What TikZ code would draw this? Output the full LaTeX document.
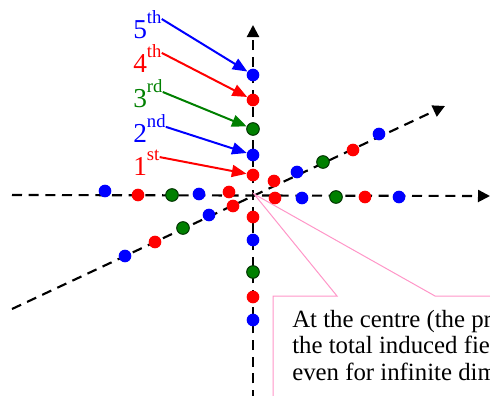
\documentclass[tikz,border=0pt]{standalone}
\usepackage{fontspec}
\setmainfont{Liberation Serif}
\usetikzlibrary{arrows.meta,positioning}
\definecolor{calloutpink}{RGB}{255,150,200}

\tikzset{
  axis/.style={line width=1.6pt, dash pattern=on 7.5pt off 5pt, -{Triangle[length=9pt,width=9pt]}},
  dot/.style={circle, inner sep=0pt, minimum size=9.5pt},
  rdot/.style={dot, fill=red},
  bdot/.style={dot, fill=blue},
  gdot/.style={dot, fill=green!50!black, draw=green!20!black, line width=0.75pt},
  ord/.style={inner sep=0pt, anchor=base west, font=\fontsize{20.5}{20.5}\selectfont},
  pointer/.style={line width=1.5pt, -{Triangle[length=11pt,width=9pt]}},
  callout/.style={draw=calloutpink, fill=white, line width=0.75pt},
  note/.style={inner sep=0pt, anchor=base west, font=\fontsize{18.6}{19}\selectfont}
}
\newcommand{\ordsup}[1]{\raisebox{11pt}{\fontsize{14}{14}\selectfont #1}}

\begin{document}
\begin{tikzpicture}[x=0.75pt, y=-0.75pt]
    \useasboundingbox (0,0) rectangle (490,396);
    \clip (0,0) rectangle (490,396);

    % Axes
    \coordinate (o) at (253,194);
    \coordinate (xl) at (12,195);
    \coordinate (xr) at (490,196);
    \coordinate (yb) at (253,400);
    \coordinate (yt) at (253,25);
    \coordinate (zl) at (12,309);
    \coordinate (zr) at (445,106);
    \draw[axis] (xl) -- (xr);
    \draw[axis] (yb) -- (yt);
    \draw[axis] (zl) -- (zr);

    % Callout
    \coordinate (tip) at (254,194);
    \filldraw[callout] (273,410) -- (273,296) -- (337,296) -- (tip) -- (435,296) -- (500,296) -- (500,410) -- cycle;
    \node[note] (note1) at (292,327) {At the centre (the pr};
    \node[note] (note2) at (292,353) {the total induced fie};
    \node[note] (note3) at (292,380) {even for infinite dim};

    % Vertical axis, above
    \node[rdot] (v1) at (253,175) {};
    \node[bdot] (v2) at (253,155) {};
    \node[gdot] (v3) at (253,129) {};
    \node[rdot] (v4) at (253,100) {};
    \node[bdot] (v5) at (253,75) {};
    % Vertical axis, below
    \node[rdot] (w1) at (253,217) {};
    \node[bdot] (w2) at (253,240) {};
    \node[gdot] (w3) at (253,272) {};
    \node[rdot] (w4) at (253,297) {};
    \node[bdot] (w5) at (253,320) {};
    % Horizontal axis, right
    \node[rdot] (h1) at (275,198) {};
    \node[bdot] (h2) at (302,198) {};
    \node[gdot] (h3) at (336,197) {};
    \node[rdot] (h4) at (365,197) {};
    \node[bdot] (h5) at (399,197) {};
    % Horizontal axis, left
    \node[rdot] (k1) at (229,192) {};
    \node[bdot] (k2) at (199,194) {};
    \node[gdot] (k3) at (172,195) {};
    \node[rdot] (k4) at (138,195) {};
    \node[bdot] (k5) at (105,191) {};
    % Slanted axis, up
    \node[rdot] (d1) at (274,181) {};
    \node[bdot] (d2) at (297,172) {};
    \node[gdot] (d3) at (323,162) {};
    \node[rdot] (d4) at (353,150) {};
    \node[bdot] (d5) at (379,134) {};
    % Slanted axis, down
    \node[rdot] (e1) at (233,206) {};
    \node[bdot] (e2) at (209,215) {};
    \node[gdot] (e3) at (183,228) {};
    \node[rdot] (e4) at (155,242) {};
    \node[bdot] (e5) at (125,256) {};

    % Order labels
    \node[ord, blue] (lbl5) at (133,38) {5\ordsup{th}};
    \node[ord, red] (lbl4) at (133,72) {4\ordsup{th}};
    \node[ord, green!50!black] (lbl3) at (133,107) {3\ordsup{rd}};
    \node[ord, blue] (lbl2) at (133,142) {2\ordsup{nd}};
    \node[ord, red] (lbl1) at (133,175) {1\ordsup{st}};

    \draw[pointer, blue] ([yshift=4pt]lbl5.east) -- (v5);
    \draw[pointer, red] ([yshift=4pt]lbl4.east) -- (v4);
    \draw[pointer, green!50!black] ([yshift=1pt]lbl3.east) -- (v3);
    \draw[pointer, blue] ([yshift=1pt]lbl2.east) -- (v2);
    \draw[pointer, red] ([yshift=4pt]lbl1.east) -- (v1);
\end{tikzpicture}
\end{document}
